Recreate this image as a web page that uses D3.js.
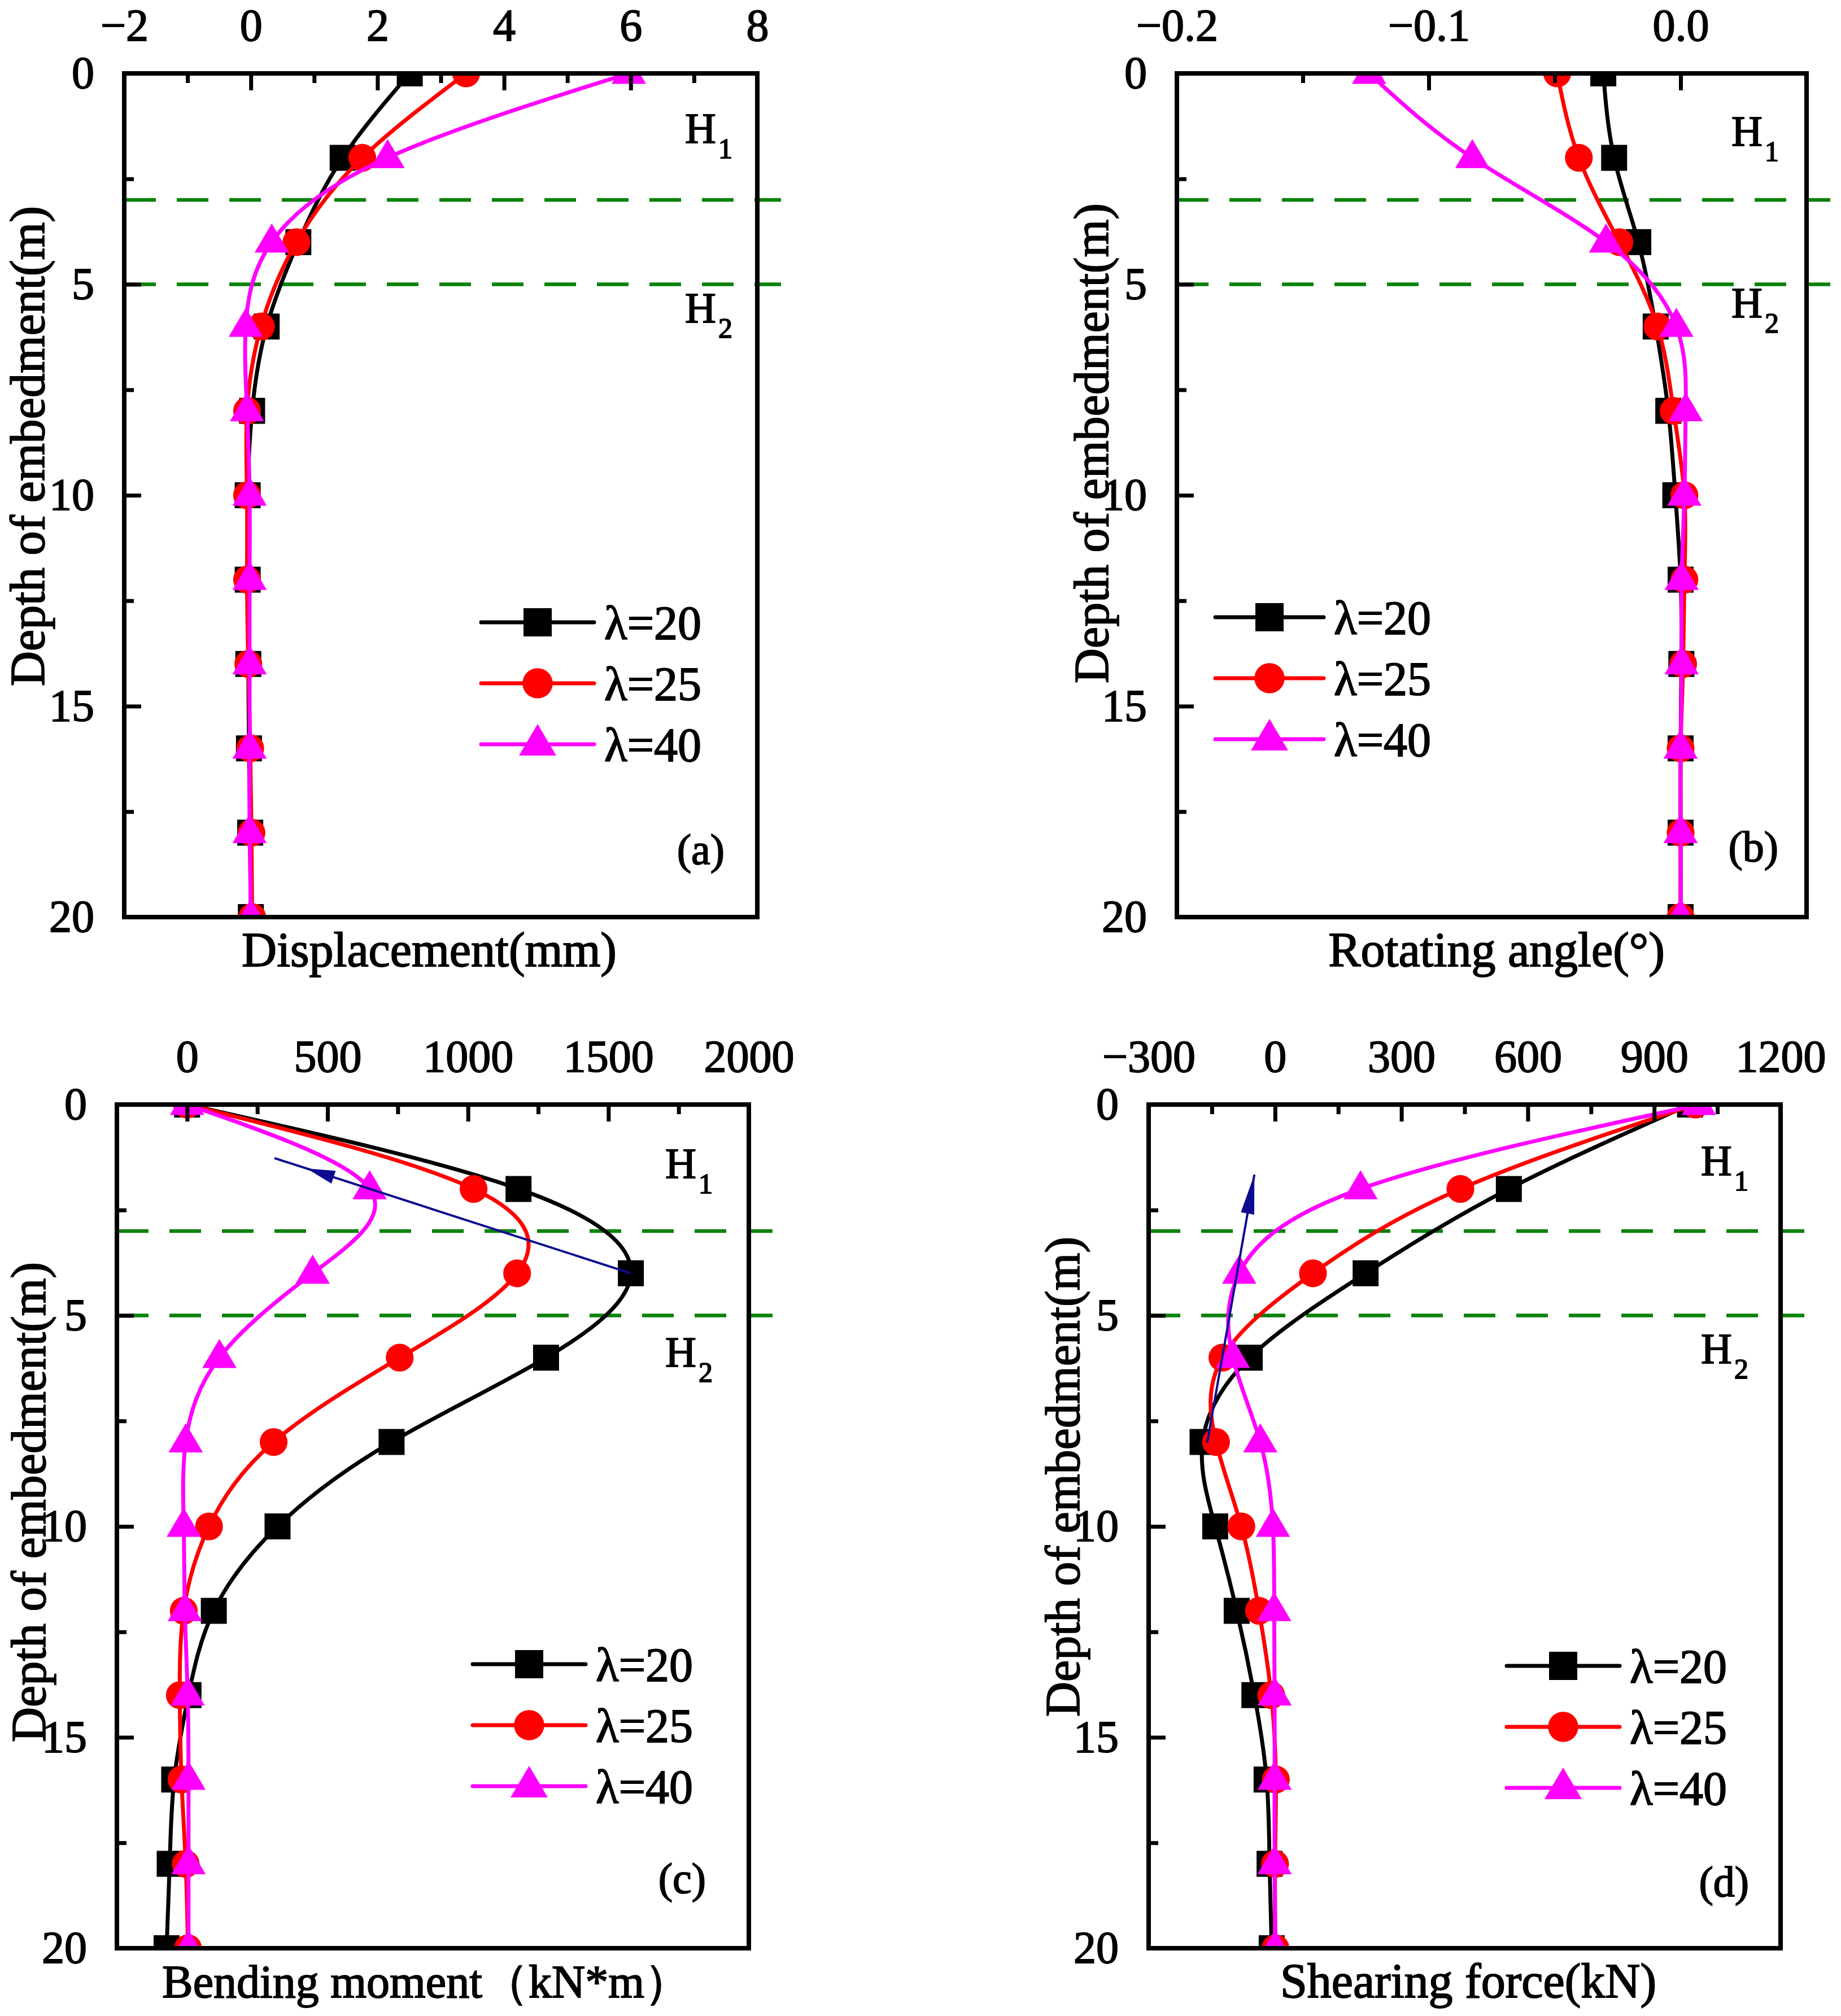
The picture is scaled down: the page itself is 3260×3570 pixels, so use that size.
<!DOCTYPE html>
<html><head><meta charset="utf-8">
<script src="https://cdn.jsdelivr.net/npm/d3@7"></script>
<style>body{margin:0;background:#fff} text{font-family:"Liberation Serif","DejaVu Serif",serif;stroke:#000;stroke-width:1.8px;}</style>
</head><body>
<svg id="chart" width="3260" height="3570" xmlns="http://www.w3.org/2000/svg"></svg>
<script>
// ---------------- data ----------------
const depth = [0, 2, 4, 6, 8, 10, 12, 14, 16, 18, 20];
const seriesNames = ["λ=20", "λ=25", "λ=40"];

const dispL20 = [2.51, 1.45, 0.75, 0.25, 0.02, -0.05, -0.05, -0.04, -0.03, -0.01, 0.0];
const dispL25 = [3.40, 1.76, 0.72, 0.16, -0.06, -0.06, -0.06, -0.04, -0.01, 0.01, 0.02];
const dispL40 = [5.97, 2.16, 0.33, -0.08, -0.06, -0.02, -0.02, -0.02, -0.02, -0.02, 0.0];

const rotL20 = [-0.0307, -0.0264, -0.0168, -0.0099, -0.0049, -0.0021, 0.0, 0.0003, 0.0, 0.0, 0.0];
const rotL25 = [-0.0490, -0.0404, -0.0243, -0.0092, -0.0028, 0.0015, 0.0015, 0.0010, 0.0, 0.0, 0.0];
const rotL40 = [-0.1237, -0.0827, -0.0296, -0.0017, 0.0020, 0.0015, 0.0004, 0.0004, 0.0, 0.0, 0.0];

const momL20 = [0, 1180, 1580, 1278, 728, 322, 95, 5, -46, -62, -73];
const momL25 = [0, 1020, 1175, 757, 308, 78, -12, -26, -20, -5, 3];
const momL40 = [0, 650, 447, 115, -5, -12, -8, 2, 5, 5, 5];

const shearL20 = [985, 555, 215, -60, -172, -142, -91, -49, -20, -13, -8];
const shearL25 = [998, 440, 90, -125, -140, -80, -38, -9, 2, 0, 1];
const shearL40 = [1006, 203, -85, -100, -35, -5, -2, -1, -1, -1, 0];

const depthTicks = [0, 5, 10, 15, 20];
const depthMinor = [2.5, 7.5, 12.5, 17.5];
const dispTicks = [-2, 0, 2, 4, 6, 8];
const dispMinor = [-1, 1, 3, 5, 7];
const rotTicks = [-0.2, -0.1, 0.0];
const rotMinor = [-0.15, -0.05];
const momTicks = [0, 500, 1000, 1500, 2000];
const momMinor = [250, 750, 1250, 1750];
const shearTicks = [-300, 0, 300, 600, 900, 1200];
const shearMinor = [-150, 150, 450, 750, 1050];
const layerDepths = [3, 5];

// annotation arrows (data units: [value, depth])
const arrowMoment = [[1580, 4.0], [311, 1.27]];
const arrowShear = [[-161, 8.02], [-49, 1.66]];

// ---------------- drawing ----------------
const svg = d3.select("#chart");
svg.append("rect").attr("width", 3260).attr("height", 3570).attr("fill", "#fff");
const FONT = '"Liberation Serif", "DejaVu Serif", serif';
const colors = ["#000000", "#ff0000", "#ff00ff"];
const markers = ["square", "circle", "triangle"];

function markerPath(type, s) {
  if (type === "square") { const h = s * 0.5; return `M${-h},${-h}H${h}V${h}H${-h}Z`; }
  if (type === "circle") { const r = s * 0.535; return `M${-r},0A${r},${r} 0 1,0 ${r},0A${r},${r} 0 1,0 ${-r},0Z`; }
  const w = s * 0.66;
  return `M0,${-s * 0.72}L${w},${s * 0.4}L${-w},${s * 0.4}Z`;
}

const panels = [
  { id: "a", box: [220, 1341, 130, 1624], dom: [-2, 8], ticks: dispTicks, minor: dispMinor, fmt: d3.format("d"),
    data: [dispL20, dispL25, dispL40], xTitle: "Displacement(mm)", xTitleX: 760, xTitleSize: 86,
    yTitleX: 78, yTitleY: 790, legX: 952, legY: [1102, 1210, 1318], legHalf: 100,
    hX: 1213, h1Y: 253, h2Y: 571, letterX: 1283, letterY: 1530, arrow: null },
  { id: "b", box: [2084, 3199, 130, 1624], dom: [-0.2, 0.05], ticks: rotTicks, minor: rotMinor, fmt: d3.format(".1f"),
    data: [rotL20, rotL25, rotL40], xTitle: "Rotating angle(°)", xTitleX: 2650, xTitleSize: 86,
    yTitleX: 1962, yTitleY: 785, legX: 2248, legY: [1093, 1201, 1309], legHalf: 96,
    hX: 3066, h1Y: 258, h2Y: 562, letterX: 3149, letterY: 1525, arrow: null },
  { id: "c", box: [207, 1326, 1956, 3450], dom: [-250, 2000], ticks: momTicks, minor: momMinor, fmt: d3.format("d"),
    data: [momL20, momL25, momL40], xTitle: "Bending moment（kN*m）", xTitleX: 755, xTitleSize: 82,
    yTitleX: 80, yTitleY: 2660, legX: 937, legY: [2947, 3055, 3163], legHalf: 100,
    hX: 1178, h1Y: 2086, h2Y: 2420, letterX: 1250, letterY: 3352, arrow: arrowMoment, headBack: 60, headLen: 50 },
  { id: "d", box: [2034, 3153, 1956, 3450], dom: [-300, 1200], ticks: shearTicks, minor: shearMinor, fmt: d3.format("d"),
    data: [shearL20, shearL25, shearL40], xTitle: "Shearing force(kN)", xTitleX: 2600, xTitleSize: 86,
    yTitleX: 1911, yTitleY: 2615, legX: 2768, legY: [2950, 3058, 3166], legHalf: 100,
    hX: 3012, h1Y: 2081, h2Y: 2414, letterX: 3097, letterY: 3358, arrow: arrowShear, headBack: 0, headLen: 70 }
];

panels.forEach(p => {
  const [x0, x1, y0, y1] = p.box;
  const x = d3.scaleLinear().domain(p.dom).range([x0, x1]);
  const y = d3.scaleLinear().domain([0, 20]).range([y0, y1]);
  const g = svg.append("g");

  const clipId = "clip-" + p.id;
  svg.append("defs").append("clipPath").attr("id", clipId)
    .append("rect").attr("x", x0).attr("y", y0).attr("width", x1 - x0).attr("height", y1 - y0);

  // layer boundary dashed lines
  g.selectAll(".layer").data(layerDepths).join("line")
    .attr("x1", x0).attr("x2", x1 + 42)
    .attr("y1", d => y(d)).attr("y2", d => y(d))
    .attr("stroke", "#0a820a").attr("stroke-width", 6.5).attr("stroke-dasharray", "56,37");

  // series
  const plot = g.append("g").attr("clip-path", `url(#${clipId})`);
  const line = d3.line().x(d => x(d[0])).y(d => y(d[1])).curve(d3.curveNatural);
  p.data.forEach((vals, i) => {
    const pts = vals.map((v, k) => [v, depth[k]]);
    plot.append("path").attr("d", line(pts)).attr("fill", "none")
      .attr("stroke", colors[i]).attr("stroke-width", 7).attr("stroke-linejoin", "round");
    plot.selectAll(null).data(pts).join("path")
      .attr("transform", d => `translate(${x(d[0])},${y(d[1])})`)
      .attr("d", markerPath(markers[i], 46))
      .attr("fill", colors[i]);
  });

  // arrow
  if (p.arrow) {
    const [a, b] = p.arrow;
    const tx = x(a[0]), ty = y(a[1]), hx = x(b[0]), hy = y(b[1]);
    const L = Math.hypot(hx - tx, hy - ty), ux = (hx - tx) / L, uy = (hy - ty) / L;
    g.append("line").attr("x1", tx).attr("y1", ty).attr("x2", hx).attr("y2", hy)
      .attr("stroke", "#0c0c90").attr("stroke-width", 4);
    const px = hx - ux * p.headBack, py = hy - uy * p.headBack;
    const bx = px - ux * p.headLen, by = py - uy * p.headLen, w = 12;
    g.append("path").attr("d", `M${px},${py}L${bx - uy * w},${by + ux * w}L${bx + uy * w},${by - ux * w}Z`)
      .attr("fill", "#0c0c90");
  }

  // frame
  g.append("rect").attr("x", x0).attr("y", y0).attr("width", x1 - x0).attr("height", y1 - y0)
    .attr("fill", "none").attr("stroke", "#000").attr("stroke-width", 8);

  // axes (top & left, ticks inward)
  const topAx = g.append("g").attr("transform", `translate(0,${y0})`)
    .call(d3.axisTop(x).tickValues(p.ticks).tickFormat(p.fmt).tickSizeInner(-30).tickSizeOuter(0).tickPadding(58));
  const topMin = g.append("g").attr("transform", `translate(0,${y0})`)
    .call(d3.axisTop(x).tickValues(p.minor).tickFormat("").tickSizeInner(-17).tickSizeOuter(0));
  const leftAx = g.append("g").attr("transform", `translate(${x0},0)`)
    .call(d3.axisLeft(y).tickValues(depthTicks).tickFormat(d3.format("d")).tickSizeInner(-30).tickSizeOuter(0).tickPadding(53));
  const leftMin = g.append("g").attr("transform", `translate(${x0},0)`)
    .call(d3.axisLeft(y).tickValues(depthMinor).tickFormat("").tickSizeInner(-17).tickSizeOuter(0));
  [topAx, topMin, leftAx, leftMin].forEach(a => {
    a.attr("font-family", null).attr("font-size", null);
    a.select(".domain").remove();
    a.selectAll(".tick line").attr("stroke", "#000").attr("stroke-width", 7);
    a.selectAll(".tick text").attr("fill", "#000").style("font-family", FONT).style("font-size", "80px");
  });

  // axis titles
  g.append("text").attr("x", p.xTitleX).attr("y", y1 + 87).attr("text-anchor", "middle")
    .style("font-family", FONT).style("font-size", p.xTitleSize + "px").text(p.xTitle);
  g.append("text").attr("transform", `translate(${p.yTitleX},${p.yTitleY}) rotate(-90)`).attr("text-anchor", "middle")
    .style("font-family", FONT).style("font-size", "86px").text("Depth of embedment(m)");

  // H1 / H2 labels
  [[p.h1Y, "1"], [p.h2Y, "2"]].forEach(([yy, sub]) => {
    const t = g.append("text").attr("x", p.hX).attr("y", yy).style("font-family", FONT).style("font-size", "76px");
    t.append("tspan").text("H");
    t.append("tspan").attr("dy", 27).attr("dx", 4).style("font-size", "50px").text(sub);
  });

  // panel letter
  g.append("text").attr("x", p.letterX).attr("y", p.letterY).attr("text-anchor", "end")
    .style("font-family", FONT).style("font-size", "76px").text(`(${p.id})`);

  // legend
  seriesNames.forEach((name, i) => {
    const ly = p.legY[i];
    g.append("line").attr("x1", p.legX - p.legHalf).attr("x2", p.legX + p.legHalf)
      .attr("y1", ly).attr("y2", ly).attr("stroke", colors[i]).attr("stroke-width", 7).attr("stroke-linecap", "round");
    g.append("path").attr("transform", `translate(${p.legX},${ly})`)
      .attr("d", markerPath(markers[i], 50)).attr("fill", colors[i]);
    g.append("text").attr("x", p.legX + p.legHalf + 18).attr("y", ly + 30)
      .style("font-family", FONT).style("font-size", "84px").text(name);
  });
});
</script>
</body></html>
